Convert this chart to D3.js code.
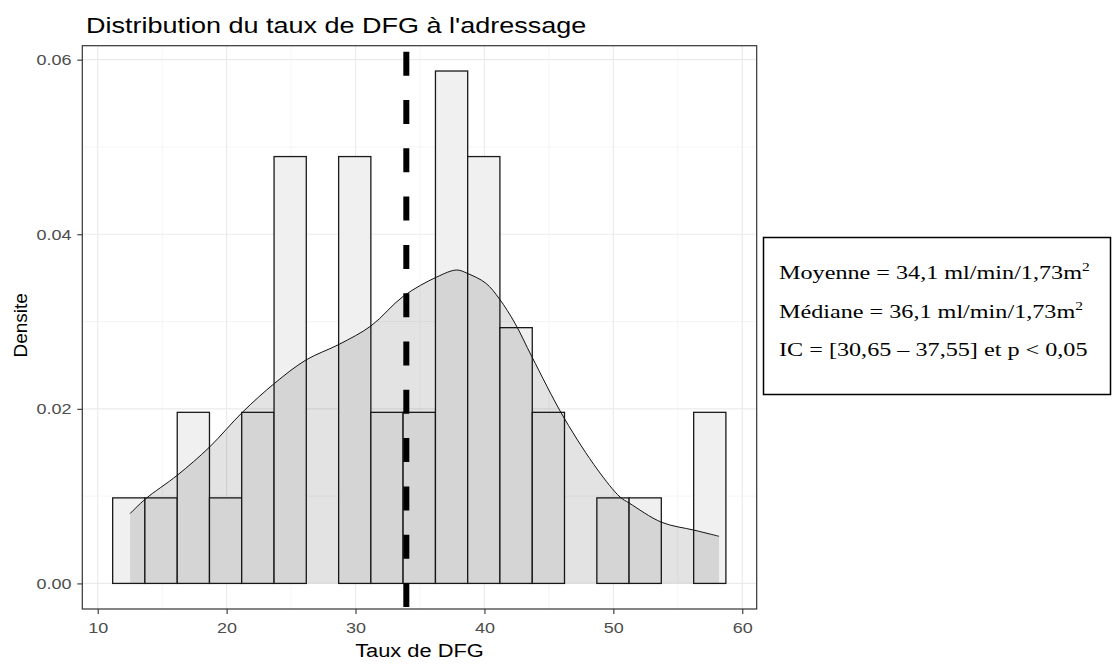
<!DOCTYPE html>
<html><head><meta charset="utf-8">
<script src="https://cdn.jsdelivr.net/npm/d3@7"></script>
<style>body{margin:0;background:#fff}svg{display:block}</style>
</head><body>
<svg id="c" width="1114" height="666"></svg>
<script>
// ---- data ----
const binEdges = [11.16, 13.66, 16.17, 18.67, 21.17, 23.68, 26.18, 28.69, 31.19, 33.69, 36.20, 38.70, 41.20, 43.71, 46.21, 48.72, 51.22, 53.72, 56.23, 58.73];
const binDensity = [0.0098, 0.0098, 0.0196, 0.0098, 0.0196, 0.0489, 0, 0.0489, 0.0196, 0.0196, 0.0587, 0.0489, 0.0293, 0.0196, 0, 0.0098, 0.0098, 0, 0.0196];
const densX = [12.51, 13.72, 16.18, 18.66, 21.22, 23.70, 26.16, 28.74, 31.20, 33.71, 36.30, 37.85, 38.70, 40.10, 41.16, 42.37, 43.67, 46.20, 48.79, 50.52, 51.24, 53.75, 56.28, 58.20];
const densY = [0.0080, 0.0097, 0.0124, 0.0156, 0.0196, 0.0229, 0.0256, 0.0274, 0.0295, 0.0329, 0.0351, 0.0359, 0.0355, 0.0344, 0.0326, 0.0298, 0.0260, 0.0189, 0.0130, 0.0099, 0.0092, 0.0070, 0.0061, 0.0054];
const meanLine = 33.94;
const xTicks = [10, 20, 30, 40, 50, 60];
const xMinor = [15, 25, 35, 45, 55];
const yTicks = [0, 0.02, 0.04, 0.06];
const yMinor = [0.01, 0.03, 0.05];
const titleText = "Distribution du taux de DFG à l'adressage";
const xTitle = "Taux de DFG";
const yTitle = "Densite";
const boxLines = [
  ["Moyenne = 34,1 ml/min/1,73m", "2"],
  ["Médiane = 36,1 ml/min/1,73m", "2"],
  ["IC = [30,65 – 37,55] et p < 0,05", ""]
];

// ---- layout ----
const P = {l: 82.3, r: 756.7, t: 45.7, b: 609};
const SX = 1.2; // horizontal stretch of the reference picture's text
const SANS = "Liberation Sans, Arial, sans-serif";
const svg = d3.select("#c");
const x = d3.scaleLinear().domain([8.805, 61.12]).range([P.l, P.r]);
const y = d3.scaleLinear().domain([-0.00293, 0.0616]).range([P.b, P.t]);

// grid
const g = svg.append("g");
g.selectAll(".xm").data(xMinor).join("line").attr("x1", d => x(d)).attr("x2", d => x(d))
  .attr("y1", P.t).attr("y2", P.b).attr("stroke", "#F2F2F2").attr("stroke-width", 0.8);
g.selectAll(".ym").data(yMinor).join("line").attr("y1", d => y(d)).attr("y2", d => y(d))
  .attr("x1", P.l).attr("x2", P.r).attr("stroke", "#F2F2F2").attr("stroke-width", 0.8);
g.selectAll(".xM").data(xTicks).join("line").attr("x1", d => x(d)).attr("x2", d => x(d))
  .attr("y1", P.t).attr("y2", P.b).attr("stroke", "#EBEBEB").attr("stroke-width", 1.2);
g.selectAll(".yM").data(yTicks).join("line").attr("y1", d => y(d)).attr("y2", d => y(d))
  .attr("x1", P.l).attr("x2", P.r).attr("stroke", "#EBEBEB").attr("stroke-width", 1.2);

// bars
svg.append("g").selectAll("rect").data(binDensity).join("rect")
  .attr("x", (d, i) => x(binEdges[i]))
  .attr("width", (d, i) => x(binEdges[i + 1]) - x(binEdges[i]))
  .attr("y", d => y(d))
  .attr("height", d => y(0) - y(d))
  .attr("fill", "#F0F0F0").attr("stroke", "#1a1a1a").attr("stroke-width", 1.3);

// density
const pts = densX.map((v, i) => [v, densY[i]]);
svg.append("path").datum(pts)
  .attr("d", d3.area().x(d => x(d[0])).y0(y(0)).y1(d => y(d[1])).curve(d3.curveCatmullRom))
  .attr("fill", "rgba(0,0,0,0.11)");
svg.append("path").datum(pts)
  .attr("d", d3.line().x(d => x(d[0])).y(d => y(d[1])).curve(d3.curveCatmullRom))
  .attr("fill", "none").attr("stroke", "#111").attr("stroke-width", 1);

// mean line
svg.append("line").attr("x1", x(meanLine)).attr("x2", x(meanLine))
  .attr("y1", P.t).attr("y2", P.b)
  .attr("stroke", "#000").attr("stroke-width", 6)
  .attr("stroke-dasharray", "24 24.3").attr("stroke-dashoffset", 42.3);

// panel border
svg.append("rect").attr("x", P.l).attr("y", P.t).attr("width", P.r - P.l).attr("height", P.b - P.t)
  .attr("fill", "none").attr("stroke", "#333").attr("stroke-width", 1.2);

// axes
const ax = svg.append("g").attr("transform", `translate(0,${P.b})`)
  .call(d3.axisBottom(x).tickValues(xTicks).tickSize(5).tickPadding(8).tickFormat(d3.format("d")));
const ay = svg.append("g").attr("transform", `translate(${P.l},0)`)
  .call(d3.axisLeft(y).tickValues(yTicks).tickSize(5).tickPadding(4).tickFormat(d3.format(".2f")));
[ax, ay].forEach(a => {
  a.select(".domain").remove();
  a.selectAll(".tick line").attr("stroke", "#333").attr("stroke-width", 1.1);
  a.selectAll(".tick text").attr("fill", "#4D4D4D").attr("font-family", SANS).attr("font-size", 15)
    .attr("transform", `scale(${SX},1)`);
});

// titles
svg.append("text").attr("transform", `translate(86,33) scale(1.2,1)`).text(titleText)
  .attr("font-family", SANS).attr("font-size", 22.5).attr("fill", "#000");
svg.append("text").attr("transform", `translate(${(P.l + P.r) / 2},657) scale(1.15,1)`).attr("text-anchor", "middle").text(xTitle)
  .attr("font-family", SANS).attr("font-size", 19).attr("fill", "#000");
svg.append("text").attr("transform", `translate(27,${(P.t + P.b) / 2 - 2}) rotate(-90)`).attr("text-anchor", "middle").text(yTitle)
  .attr("font-family", SANS).attr("font-size", 19).attr("fill", "#000");

// annotation box
svg.append("rect").attr("x", 763.5).attr("y", 237.5).attr("width", 347).attr("height", 157)
  .attr("fill", "#fff").attr("stroke", "#000").attr("stroke-width", 1.5);
const bt = svg.append("g").attr("font-family", "Liberation Serif, Times New Roman, serif").attr("font-size", 19.5).attr("fill", "#000");
boxLines.forEach((ln, i) => {
  const t = bt.append("text").attr("transform", `translate(779,${279 + i * 38.5}) scale(1.24,1)`);
  t.append("tspan").text(ln[0]);
  if (ln[1]) t.append("tspan").attr("dy", -8).attr("font-size", 12.5).text(ln[1]);
});
</script>
</body></html>
